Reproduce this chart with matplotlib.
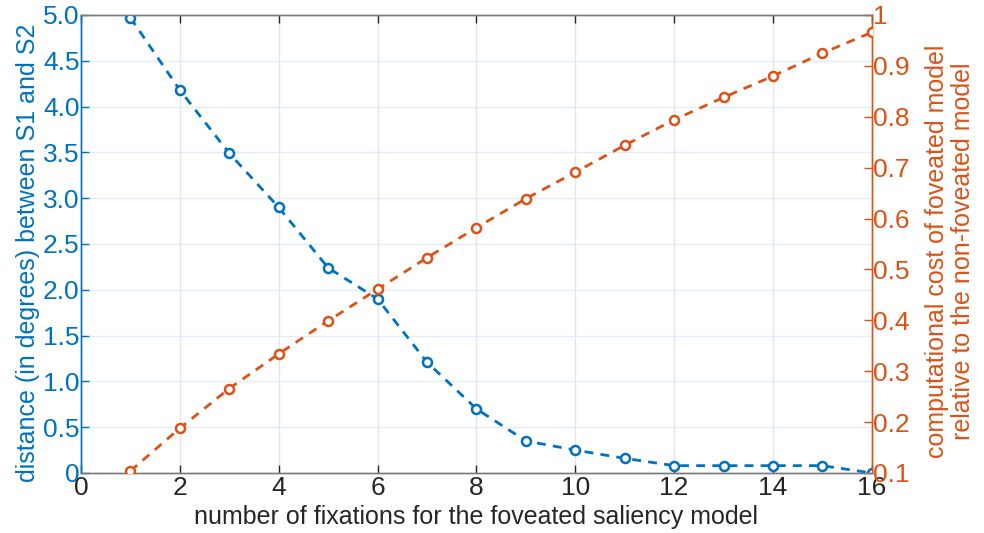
import matplotlib.pyplot as plt

plt.rcParams['font.family'] = ['Liberation Sans', 'DejaVu Sans']

BLUE = "#0072BD"
ORANGE = "#D95319"
DARK = "#262626"

# number of fixations
fixations = list(range(1, 17))

# distance between S1 and S2 (degrees)
distance = [4.97, 4.18, 3.49, 2.90, 2.24, 1.90, 1.21, 0.70,
            0.35, 0.25, 0.16, 0.08, 0.08, 0.08, 0.08, 0.00]

# relative computational cost of the foveated model
cost = [0.104, 0.188, 0.266, 0.334, 0.399, 0.461, 0.523, 0.582,
        0.639, 0.691, 0.744, 0.794, 0.838, 0.880, 0.925, 0.966]

left_ticks = [0, 0.5, 1.0, 1.5, 2.0, 2.5, 3.0, 3.5, 4.0, 4.5, 5.0]
left_labels = ["0", "0.5", "1.0", "1.5", "2.0", "2.5", "3.0", "3.5", "4.0", "4.5", "5.0"]
right_ticks = [0.1, 0.2, 0.3, 0.4, 0.5, 0.6, 0.7, 0.8, 0.9, 1.0]
right_labels = ["0.1", "0.2", "0.3", "0.4", "0.5", "0.6", "0.7", "0.8", "0.9", "1"]
x_ticks = list(range(0, 17, 2))

TICK_FS = 19
LABEL_FS = 18

fig = plt.figure(figsize=(9.84, 5.33), dpi=100)
ax = fig.add_axes([0.0823, 0.1126, 0.8037, 0.8593])
ax2 = ax.twinx()

# grid
for x in x_ticks[1:-1]:
    ax.axvline(x, color="#E3E6EA", lw=1.0, zorder=0)
for y in left_ticks[1:-1]:
    ax.axhline(y, color="#E2EDF7", lw=1.0, zorder=0)

ax.plot(fixations, distance, ls="--", color=BLUE, lw=2.0, dashes=(3.2, 2.6),
        marker="o", ms=6.5, mfc="white", mec=BLUE, mew=1.8, zorder=3)
ax2.plot(fixations, cost, ls="--", color=ORANGE, lw=2.0, dashes=(3.2, 2.6),
         marker="o", ms=6.5, mfc="white", mec=ORANGE, mew=1.8, zorder=3)

ax.set_xlim(0, 16)
ax.set_ylim(0, 5)
ax2.set_ylim(0.1, 1.0)

ax.set_xticks(x_ticks)
ax.set_yticks(left_ticks)
ax.set_yticklabels(left_labels)
ax2.set_yticks(right_ticks)
ax2.set_yticklabels(right_labels)

ax.tick_params(axis="x", direction="in", length=6, width=1, colors=DARK,
               labelsize=TICK_FS, pad=2, top=True)
ax.tick_params(axis="y", direction="in", length=6, width=1, colors=BLUE,
               labelsize=TICK_FS, pad=1)
ax2.tick_params(axis="y", direction="in", length=6, width=1, colors=ORANGE,
                labelsize=TICK_FS, pad=1)

for a in (ax, ax2):
    a.spines["top"].set_color("#7A7A7A")
    a.spines["bottom"].set_color("#7A7A7A")
    a.spines["left"].set_color(BLUE)
    a.spines["right"].set_color(ORANGE)
    for s in a.spines.values():
        s.set_linewidth(1.0)

ax.set_xlabel("number of fixations for the foveated saliency model",
              fontsize=LABEL_FS, color=DARK, labelpad=4)
ax.set_ylabel("distance (in degrees) between S1 and S2",
              fontsize=LABEL_FS, color=BLUE, labelpad=2)
ax.yaxis.label.set_y(0.48)
ax2.set_ylabel("computational cost of foveated model\nrelative to the non-foveated model",
               fontsize=LABEL_FS, color=ORANGE, labelpad=11, linespacing=1.12)
ax2.yaxis.label.set_y(0.485)

fig.savefig("out.png", dpi=100, facecolor="white")
